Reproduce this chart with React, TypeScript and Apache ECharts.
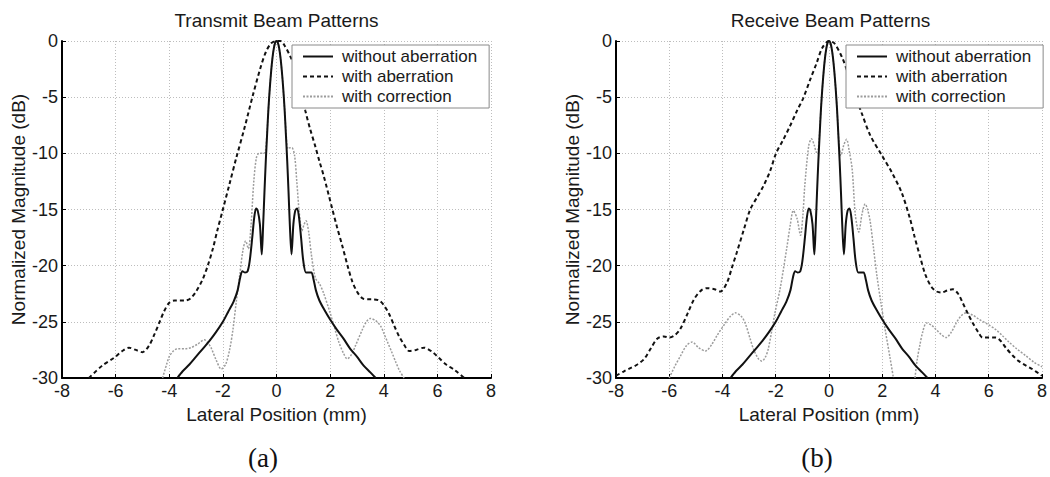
import { useEffect, useRef } from "react";
import * as echarts from "echarts";

const SERIES_NAMES = ["without aberration", "with aberration", "with correction"];
const PANEL_TITLES = ["Transmit Beam Patterns", "Receive Beam Patterns"];
const PANEL_LABELS = ["(a)", "(b)"];
const X_NAME = "Lateral Position (mm)";
const Y_NAME = "Normalized Magnitude (dB)";
const X_MIN = -8;
const X_MAX = 8;
const X_STEP = 2;
const Y_MIN = -30;
const Y_MAX = 0;
const Y_STEP = 5;

type Pt = [number, number | string];

// ---- (a) Transmit ----
const txWithout: Pt[] = [
  [-3.7, -30], [-3.5, -29.4], [-3.25, -28.8], [-3.0, -28.1], [-2.75, -27.4], [-2.5, -26.7], [-2.25, -25.9],
  [-2.0, -25.0], [-1.8, -24.1], [-1.6, -23.2], [-1.45, -22.2], [-1.35, -21.0], [-1.27, -20.5], [-1.18, -20.6],
  [-1.08, -20.5], [-1.0, -19.6], [-0.9, -17.4], [-0.83, -15.7], [-0.76, -14.9], [-0.7, -15.1], [-0.62, -16.3],
  [-0.55, -19.0], [-0.5, -16.5], [-0.45, -13.5], [-0.4, -10.7], [-0.35, -8.3], [-0.3, -6.0], [-0.25, -4.2],
  [-0.2, -2.7], [-0.15, -1.5], [-0.1, -0.65], [-0.05, -0.15], [0, 0], [0.05, -0.15], [0.1, -0.65], [0.15, -1.5],
  [0.2, -2.7], [0.25, -4.2], [0.3, -6.0], [0.35, -8.3], [0.4, -10.7], [0.45, -13.5], [0.5, -16.5], [0.56, -19.0],
  [0.63, -16.3], [0.7, -15.1], [0.77, -14.9], [0.84, -15.7], [0.92, -17.6], [1.0, -19.6], [1.1, -20.6],
  [1.2, -20.6], [1.3, -20.6], [1.38, -21.2], [1.47, -22.2], [1.6, -23.1], [1.8, -24.0], [2.0, -24.8],
  [2.25, -25.7], [2.5, -26.5], [2.75, -27.4], [3.0, -28.1], [3.25, -28.9], [3.5, -29.5], [3.7, -30],
];

const txWith: Pt[] = [
  [-7.0, -30], [-6.5, -28.9], [-6.06, -28.2], [-5.75, -27.6], [-5.5, -27.3], [-5.25, -27.5], [-5.0, -27.7],
  [-4.75, -27.1], [-4.55, -26.1], [-4.375, -25.1], [-4.2, -24.1], [-4.0, -23.3], [-3.8, -23.1], [-3.6, -23.1],
  [-3.4, -23.1], [-3.2, -22.9], [-3.0, -22.3], [-2.75, -21.2], [-2.55, -19.9], [-2.375, -18.5], [-2.2, -16.8],
  [-2.0, -15.0], [-1.75, -12.7], [-1.5, -10.4], [-1.2, -7.8], [-0.9, -5.0], [-0.6, -2.4], [-0.4, -1.0],
  [-0.2, -0.2], [0, 0], [0.15, 0], [0.3, -0.4], [0.5, -1.3], [0.7, -2.4], [0.825, -3.4], [1.075, -6.2],
  [1.25, -7.8], [1.45, -9.4], [1.6, -10.7], [1.76, -12.0], [2.075, -14.9], [2.25, -16.5], [2.45, -18.2],
  [2.65, -20.0], [2.825, -21.4], [3.0, -22.3], [3.2, -22.9], [3.4, -23.0], [3.6, -23.0], [3.825, -23.1],
  [4.0, -23.5], [4.2, -24.3], [4.4, -25.4], [4.575, -26.3], [4.75, -27.0], [4.95, -27.6], [5.2, -27.5],
  [5.5, -27.3], [5.825, -27.7], [6.05, -28.2], [6.325, -28.8], [6.65, -29.3], [7.0, -30],
];

const txCorr: Pt[] = [
  [-4.25, -30], [-4.1, -28.8], [-4.0, -28.1], [-3.85, -27.6], [-3.69, -27.4], [-3.4, -27.4], [-3.19, -27.3],
  [-2.95, -27.0], [-2.69, -26.6], [-2.55, -26.9], [-2.44, -27.3], [-2.25, -28.4], [-2.06, -29.2],
  [-1.9, -28.8], [-1.75, -27.5], [-1.625, -25.7], [-1.5, -23.2], [-1.375, -20.9], [-1.25, -18.6],
  [-1.15, -17.8], [-1.05, -18.5], [-0.95, -16.4], [-0.85, -12.6], [-0.75, -10.4], [-0.65, -10.0],
  [-0.5, -10.0], [-0.42, -9.9], [-0.35, -8.0], [-0.3, -6.0], [-0.2, -2.7], [-0.1, -0.65], [0, 0],
  [0.1, -0.65], [0.2, -2.7], [0.3, -6.0], [0.36, -8.3], [0.42, -9.6], [0.5, -9.5], [0.575, -9.5],
  [0.675, -10.2], [0.76, -12.6], [0.85, -15.3], [0.95, -16.9], [1.02, -16.4], [1.1, -16.0], [1.2, -17.0],
  [1.3, -19.0], [1.45, -21.1], [1.6, -21.6], [1.75, -22.4], [2.0, -24.2], [2.15, -25.4], [2.325, -26.8],
  [2.5, -27.8], [2.64, -28.3], [2.8, -27.9], [2.95, -27.1], [3.2, -25.7], [3.35, -25.0], [3.5, -24.7],
  [3.7, -24.9], [3.89, -25.4], [4.0, -26.0], [4.14, -26.8], [4.3, -27.7], [4.45, -28.6], [4.6, -29.4],
  [4.76, -30],
];

// ---- (b) Receive ----
const rxWithout: Pt[] = [
  [-3.7, -30], [-3.5, -29.4], [-3.25, -28.8], [-3.0, -28.1], [-2.75, -27.4], [-2.5, -26.7], [-2.25, -25.9],
  [-2.0, -25.0], [-1.8, -24.1], [-1.6, -23.2], [-1.45, -22.2], [-1.35, -21.0], [-1.27, -20.5], [-1.18, -20.6],
  [-1.08, -20.5], [-1.0, -19.6], [-0.9, -17.4], [-0.83, -15.7], [-0.76, -14.9], [-0.7, -15.1], [-0.62, -16.3],
  [-0.55, -19.0], [-0.5, -16.5], [-0.45, -13.5], [-0.4, -10.7], [-0.35, -8.3], [-0.3, -6.0], [-0.25, -4.2],
  [-0.2, -2.7], [-0.15, -1.5], [-0.1, -0.65], [-0.05, -0.15], [0, 0], [0.05, -0.15], [0.1, -0.65], [0.15, -1.5],
  [0.2, -2.7], [0.25, -4.2], [0.3, -6.0], [0.35, -8.3], [0.4, -10.7], [0.45, -13.5], [0.5, -16.5], [0.56, -19.0],
  [0.63, -16.3], [0.7, -15.1], [0.77, -14.9], [0.84, -15.7], [0.92, -17.6], [1.0, -19.6], [1.1, -20.6],
  [1.2, -20.6], [1.3, -20.6], [1.38, -21.2], [1.47, -22.2], [1.6, -23.1], [1.8, -24.0], [2.0, -24.8],
  [2.25, -25.7], [2.5, -26.5], [2.75, -27.4], [3.0, -28.1], [3.25, -28.9], [3.5, -29.5], [3.7, -30],
];

const rxWith: Pt[] = [
  [-8.0, -29.8], [-7.7, -29.4], [-7.44, -29.1], [-7.2, -28.8], [-6.94, -28.3], [-6.7, -27.4], [-6.45, -26.5],
  [-6.2, -26.3], [-6.0, -26.4], [-5.8, -26.2], [-5.6, -25.7], [-5.3, -24.2], [-5.07, -23.0], [-4.8, -22.2],
  [-4.58, -22.0], [-4.3, -22.1], [-4.08, -22.3], [-3.83, -21.5], [-3.65, -20.2], [-3.46, -18.8],
  [-3.2, -16.8], [-2.96, -15.0], [-2.7, -13.9], [-2.46, -12.9], [-2.2, -11.5], [-1.99, -10.0], [-1.72, -8.8],
  [-1.47, -7.6], [-1.2, -6.2], [-0.97, -5.1], [-0.7, -3.4], [-0.47, -2.0], [-0.25, -0.6], [0, 0], [0.2, -0.2],
  [0.5, -1.5], [0.7, -2.8], [0.93, -4.5], [1.24, -6.5], [1.55, -8.4], [1.99, -10.2], [2.36, -11.7],
  [2.73, -13.5], [3.04, -15.8], [3.2, -17.3], [3.41, -19.1], [3.62, -20.8], [3.85, -21.9], [4.05, -22.3],
  [4.22, -22.4], [4.45, -22.2], [4.65, -22.1], [4.85, -22.5], [5.02, -23.3], [5.2, -24.2], [5.4, -25.1],
  [5.6, -25.9], [5.77, -26.4], [6.0, -26.4], [6.27, -26.4], [6.45, -26.7], [6.64, -27.3], [6.9, -28.0],
  [7.13, -28.5], [7.4, -28.9], [7.63, -29.2], [8.0, -29.8],
];

const rxCorr: Pt[] = [
  [-6.0, -30], [-5.8, -29.0], [-5.57, -28.0], [-5.35, -27.1], [-5.14, -26.8], [-4.9, -27.3], [-4.64, -27.6],
  [-4.4, -27.0], [-4.2, -26.2], [-3.89, -25.1], [-3.7, -24.5], [-3.52, -24.2], [-3.3, -24.5], [-3.15, -25.1],
  [-2.95, -26.6], [-2.84, -27.4], [-2.65, -28.3], [-2.52, -28.5], [-2.38, -28.1], [-2.28, -27.4],
  [-2.15, -25.8], [-2.03, -24.2], [-1.84, -22.1], [-1.59, -18.5], [-1.45, -16.3], [-1.34, -15.1],
  [-1.2, -15.8], [-1.07, -17.3], [-0.98, -15.5], [-0.91, -12.9], [-0.76, -9.3], [-0.66, -8.7], [-0.55, -9.3],
  [-0.47, -9.9], [-0.4, -9.6], [-0.3, -6.0], [-0.2, -2.7], [-0.1, -0.65], [0, 0], [0.1, -0.65], [0.2, -2.7],
  [0.3, -6.0], [0.38, -9.3], [0.45, -10.2], [0.55, -9.3], [0.66, -8.75], [0.76, -9.8], [0.87, -11.4],
  [0.99, -15.5], [1.12, -17.0], [1.24, -15.4], [1.36, -14.5], [1.45, -15.0], [1.55, -16.1], [1.67, -18.4],
  [1.8, -20.9], [1.95, -23.3], [2.11, -25.7], [2.3, -28.3], [2.42, -30], [2.8, "-"], [3.23, -30],
  [3.31, -28.4], [3.41, -27.1], [3.52, -25.9], [3.66, -25.1], [3.85, -25.3], [4.03, -25.7], [4.2, -26.1],
  [4.4, -26.4], [4.6, -25.9], [4.78, -25.1], [4.95, -24.5], [5.15, -24.2], [5.4, -24.4], [5.65, -24.8],
  [5.95, -25.2], [6.27, -25.7], [6.5, -26.2], [6.76, -26.8], [7.05, -27.4], [7.38, -28.0], [7.7, -28.6],
  [8.0, -29.0],
];

const PANELS = [
  { title: PANEL_TITLES[0], label: PANEL_LABELS[0], data: [txWithout, txWith, txCorr] },
  { title: PANEL_TITLES[1], label: PANEL_LABELS[1], data: [rxWithout, rxWith, rxCorr] },
];

const FONT = "'Liberation Sans', Arial, Helvetica, sans-serif";
const SERIF = "'Liberation Serif', 'Times New Roman', serif";
const TEXT = "#1a1a1a";
const GRID_LEFTS = [62, 616];
const GRID_TOP = 41;
const GRID_W = 429;
const GRID_H = 337;

const LINE_STYLES = [
  { color: "#111111", width: 2, type: "solid" },
  { color: "#111111", width: 2, type: [4, 3] },
  { color: "#9c9c9c", width: 1.5, type: [2, 1.5] },
];
const Z_ORDER = [4, 3, 2];

export default function App() {
  const ref = useRef<HTMLDivElement>(null);

  useEffect(() => {
    if (!ref.current) return;
    const chart = echarts.init(ref.current, undefined, { renderer: "svg" });

    const grid = PANELS.map((_, i) => ({
      left: GRID_LEFTS[i],
      top: GRID_TOP,
      width: GRID_W,
      height: GRID_H,
      containLabel: false,
    }));

    const xAxis = PANELS.map((_, i) => ({
      type: "value",
      gridIndex: i,
      min: X_MIN,
      max: X_MAX,
      interval: X_STEP,
      name: X_NAME,
      nameLocation: "middle",
      nameGap: 22,
      nameTextStyle: { fontSize: 19, color: TEXT, fontFamily: FONT },
      axisLine: { show: true, onZero: false, lineStyle: { color: "#000", width: 2 } },
      axisTick: { show: true, inside: true, length: 4, lineStyle: { color: "#000", width: 1 } },
      axisLabel: { fontSize: 18, color: TEXT, fontFamily: FONT, margin: 4 },
      splitLine: { show: true, lineStyle: { color: "#bdbdbd", width: 1, type: [1, 2] } },
    }));

    const yAxis = PANELS.map((_, i) => ({
      type: "value",
      gridIndex: i,
      min: Y_MIN,
      max: Y_MAX,
      interval: Y_STEP,
      name: Y_NAME,
      nameLocation: "middle",
      nameGap: 32,
      nameRotate: 90,
      nameTextStyle: { fontSize: 19, color: TEXT, fontFamily: FONT },
      axisLine: { show: true, onZero: false, lineStyle: { color: "#000", width: 2 } },
      axisTick: { show: true, inside: true, length: 4, lineStyle: { color: "#000", width: 1 } },
      axisLabel: { fontSize: 18, color: TEXT, fontFamily: FONT, margin: 4 },
      splitLine: { show: true, lineStyle: { color: "#bdbdbd", width: 1, type: [1, 2] } },
    }));

    const series: any[] = [];
    PANELS.forEach((p, i) => {
      p.data.forEach((d, k) => {
        series.push({
          type: "line",
          name: SERIES_NAMES[k],
          xAxisIndex: i,
          yAxisIndex: i,
          data: d,
          symbol: "none",
          smooth: 0.3,
          z: Z_ORDER[k],
          clip: true,
          connectNulls: false,
          lineStyle: LINE_STYLES[k],
          itemStyle: { color: LINE_STYLES[k].color },
          emphasis: { disabled: true },
        });
      });
    });

    const legend = PANELS.map((_, i) => ({
      orient: "vertical",
      left: GRID_LEFTS[i] + 230,
      top: 45,
      padding: [3, 12, 3, 10],
      itemWidth: 30,
      itemHeight: 12,
      itemGap: 3,
      backgroundColor: "#ffffff",
      borderColor: "#8a8a8a",
      borderWidth: 1,
      selectedMode: false,
      data: SERIES_NAMES,
      itemStyle: { opacity: 0, color: "rgba(0,0,0,0)", borderWidth: 0 },
      textStyle: { fontSize: 17, color: TEXT, fontFamily: FONT, padding: [0, 0, 0, 4] },
    }));

    const title = PANELS.map((p, i) => ({
      text: p.title,
      left: GRID_LEFTS[i] + GRID_W / 2,
      top: 11,
      textAlign: "center",
      padding: 0,
      textStyle: { fontSize: 19, fontWeight: "normal", color: TEXT, fontFamily: FONT },
    }));

    const graphic = PANELS.map((p, i) => ({
      type: "text",
      x: GRID_LEFTS[i] + 201,
      y: 458,
      style: {
        text: p.label,
        fontSize: 27,
        fontFamily: SERIF,
        fill: "#111",
        align: "center",
        verticalAlign: "middle",
      },
    }));

    chart.setOption({
      animation: false,
      backgroundColor: "#ffffff",
      title,
      legend,
      grid,
      xAxis,
      yAxis,
      series,
      graphic,
    });

    return () => chart.dispose();
  }, []);

  return (
    <div
      ref={ref}
      style={{ position: "fixed", left: 0, top: 0, width: 1050, height: 477, background: "#fff" }}
    />
  );
}
